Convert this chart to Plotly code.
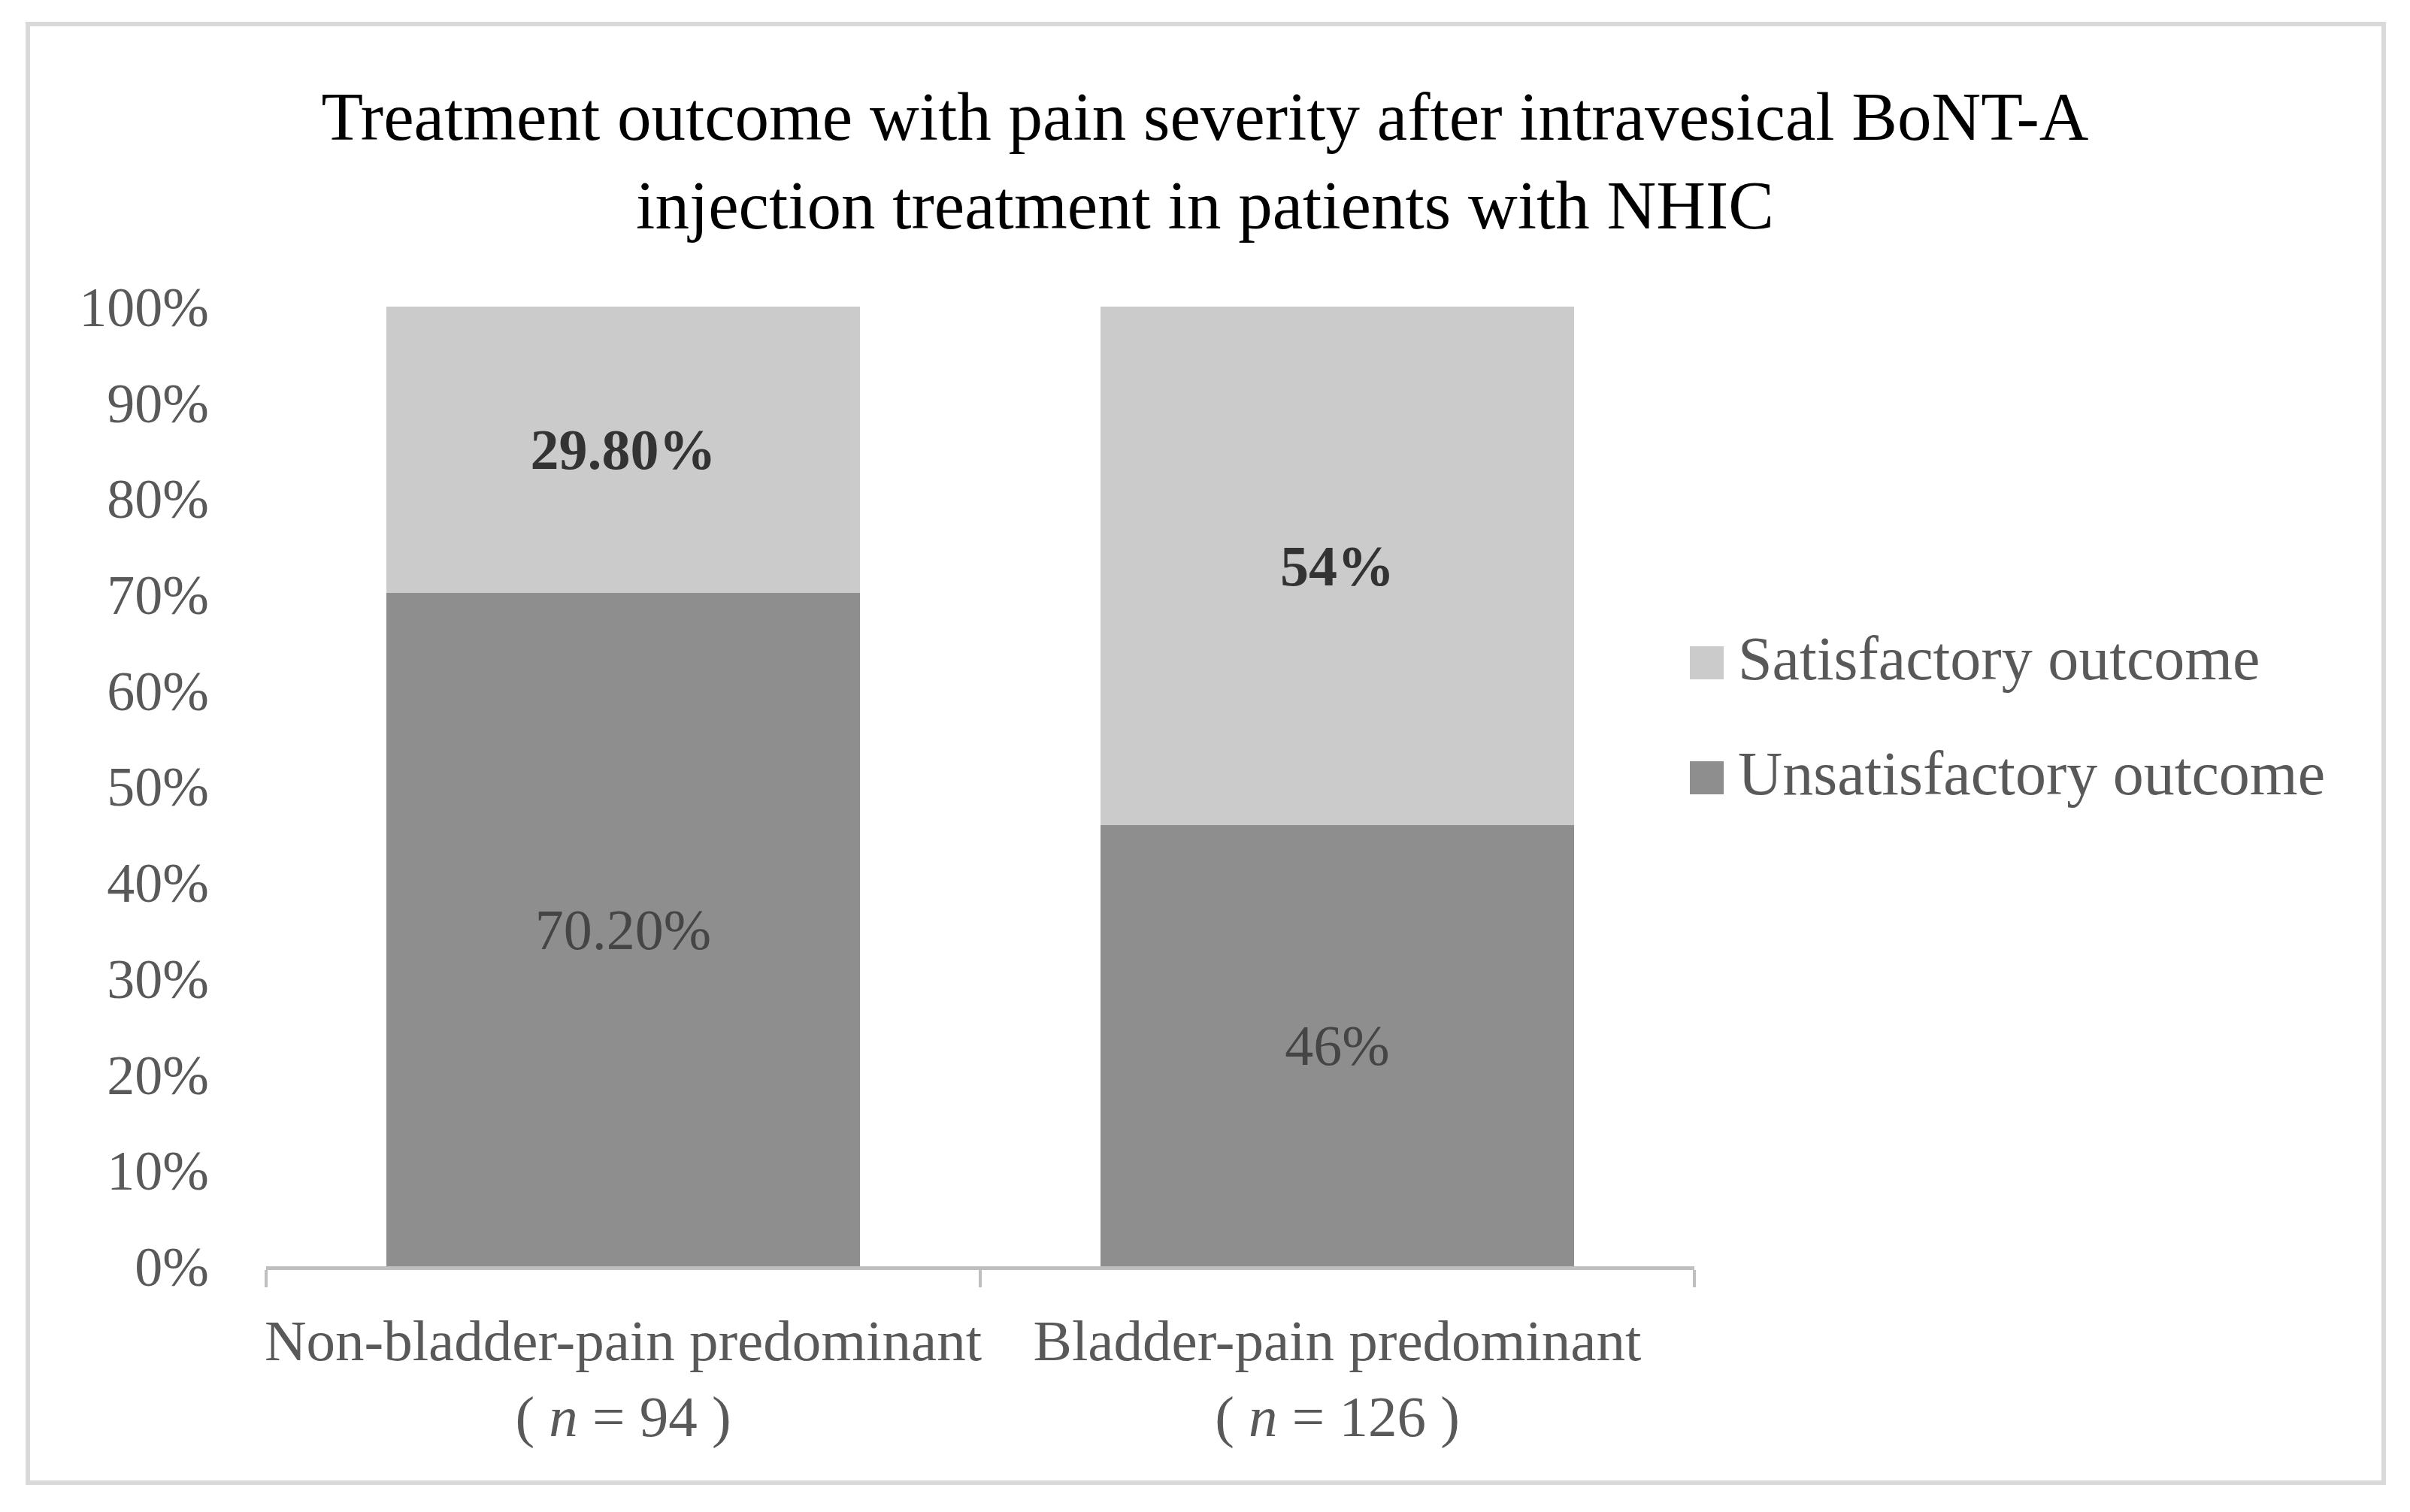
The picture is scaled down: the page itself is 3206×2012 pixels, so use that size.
import plotly.graph_objects as go

# ---------------- data ----------------
categories = [
    "Non-bladder-pain predominant<br>( <i>n</i> = 94 )",
    "Bladder-pain predominant<br>( <i>n</i> = 126 )",
]
unsatisfactory = [70.2, 46]
satisfactory = [29.8, 54]
unsat_labels = ["70.20%", "46%"]
sat_labels = ["29.80%", "54%"]
series_names = ["Satisfactory outcome", "Unsatisfactory outcome"]
y_tick_values = [0, 10, 20, 30, 40, 50, 60, 70, 80, 90, 100]
y_tick_labels = ["0%", "10%", "20%", "30%", "40%", "50%", "60%", "70%", "80%", "90%", "100%"]
title_text = ("Treatment outcome with pain severity after intravesical BoNT-A<br>"
              "injection treatment in patients with NHIC")

# ---------------- styling ----------------
FONT = "Liberation Serif, Times New Roman, serif"
C_UNSAT = "#8e8e8e"
C_SAT = "#cbcbcb"
TXT = "#595959"

OFF = 8  # default page body margin
W, H = 3206 - 2 * OFF, 2012 - 2 * OFF
# plot area in page pixels
PL, PR, PT, PB = 354 - OFF, 2254 - OFF, 408 - OFF, 1685 - OFF


def fx(px):
    return (px - OFF - PL) / (PR - PL)


def fy(py):
    return (PB - (py - OFF)) / (PB - PT)


fig = go.Figure()
fig.add_trace(go.Bar(
    x=categories, y=unsatisfactory, name=series_names[1],
    marker=dict(color=C_UNSAT, line=dict(width=0)),
    text=unsat_labels, textposition="inside", insidetextanchor="middle",
    textangle=0, textfont=dict(family=FONT, size=76, color="#454545"),
    showlegend=False, hoverinfo="skip",
))
fig.add_trace(go.Bar(
    x=categories, y=satisfactory, name=series_names[0],
    marker=dict(color=C_SAT, line=dict(width=0)),
    text=sat_labels, textposition="inside", insidetextanchor="middle",
    textangle=0, textfont=dict(family=FONT, size=76, color="#333333", weight="bold"),
    showlegend=False, hoverinfo="skip",
))

shapes = [
    # outer frame
    dict(type="rect", xref="paper", yref="paper",
         x0=fx(37), x1=fx(3171), y0=fy(1973), y1=fy(32),
         line=dict(color="#d9d9d9", width=6), fillcolor="rgba(0,0,0,0)", layer="below"),
]
annotations = []
legend_items = [(series_names[0], C_SAT, 882), (series_names[1], C_UNSAT, 1035)]
for name, col, cy in legend_items:
    shapes.append(dict(type="rect", xref="paper", yref="paper",
                       x0=fx(2248), x1=fx(2293), y0=fy(cy + 22), y1=fy(cy - 22),
                       line=dict(width=0), fillcolor=col))
    annotations.append(dict(xref="paper", yref="paper", x=fx(2310), y=fy(cy - 6),
                            xanchor="left", yanchor="middle", showarrow=False,
                            text=name, font=dict(family=FONT, size=82, color=TXT)))

fig.update_layout(
    width=W, height=H,
    margin=dict(l=PL, r=W - PR, t=PT, b=H - PB, pad=0, autoexpand=False),
    paper_bgcolor="white", plot_bgcolor="white",
    barmode="stack", bargap=0.337,
    title=dict(text=title_text, x=0.5, xref="container", xanchor="center",
               y=1 - (186 - OFF) / H, yref="container", yanchor="top",
               font=dict(family=FONT, size=91, color="#000000")),
    xaxis=dict(showline=True, linecolor="#bfbfbf", linewidth=5,
               ticks="outside", tickson="boundaries", ticklen=23, tickwidth=4,
               tickcolor="#bfbfbf", showgrid=False, zeroline=False,
               tickangle=0, automargin=False, ticklabelstandoff=28,
               tickfont=dict(family=FONT, size=77, color=TXT)),
    yaxis=dict(range=[0, 100], tickvals=y_tick_values, ticktext=y_tick_labels,
               showline=False, showgrid=False, zeroline=False, ticks="",
               ticklabelstandoff=75, automargin=False,
               tickfont=dict(family=FONT, size=74, color=TXT)),
    shapes=shapes, annotations=annotations,
    font=dict(family=FONT),
)

fig.write_html("out.html")
